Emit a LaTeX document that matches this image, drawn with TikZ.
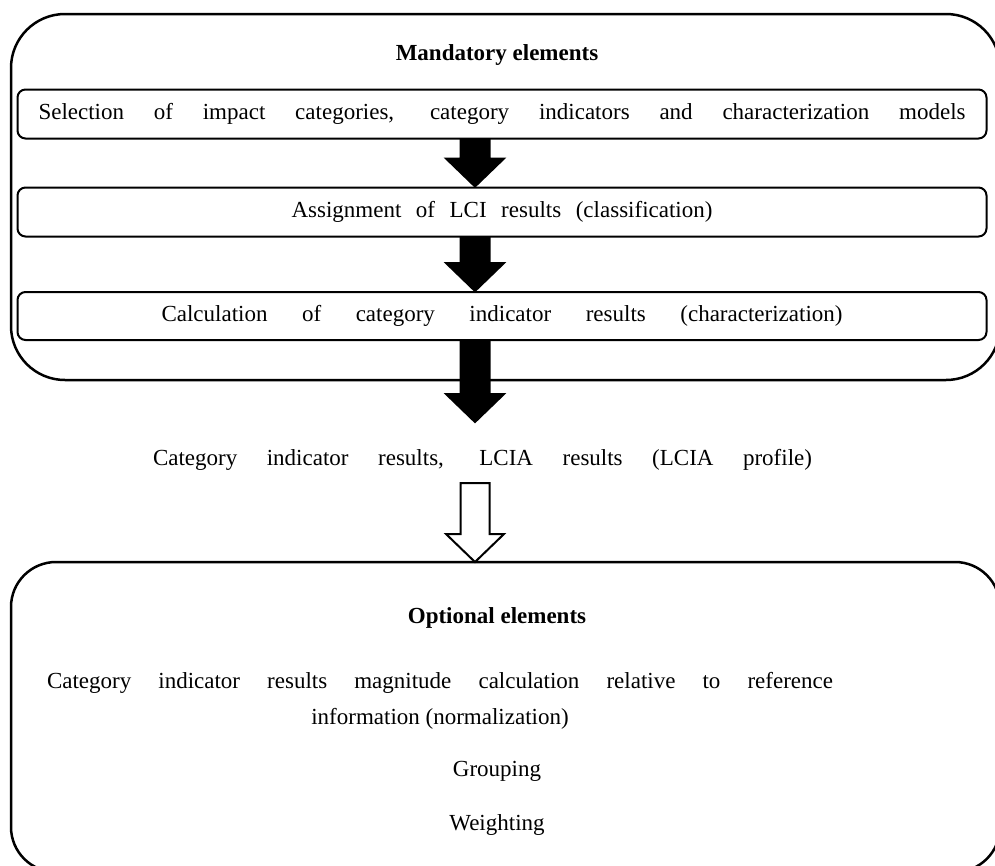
\documentclass[tikz,border=0pt]{standalone}
\usepackage{fontspec}
\setmainfont{Liberation Serif}
\usetikzlibrary{calc}

\begin{document}
\begin{tikzpicture}[x=1pt, y=-1pt, font=\fontsize{23}{28}\selectfont,
	outer/.style = {draw, line width=2.5pt, inner sep=0pt, outer sep=0pt},
	stage/.style = {draw, line width=2pt, rounded corners=8pt, minimum width=969pt, minimum height=49pt, inner sep=0pt},
	txt/.style = {draw=none, align=center, inner sep=0pt},
	blockarrow/.style = {line width=2pt, line join=miter, to path={let \p1=(\tikztostart), \p2=(\tikztotarget) in
		(\x1-14.5pt,\y1) -- (\x1-14.5pt,\y2+28pt) -- (\x1-29pt,\y2+28pt) -- (\x2,\y2)
		-- (\x1+29pt,\y2+28pt) -- (\x1+14.5pt,\y2+28pt) -- (\x1+14.5pt,\y1) -- cycle}}]
\useasboundingbox (0,0) rectangle (995,865);
\clip (0,0) rectangle (995,865);
\coordinate (arrx) at (475,0);
\node[outer, rounded corners=54pt, minimum width=989pt, minimum height=366pt] (mand) at (505.5,197) {};
\node[outer, rounded corners=45pt, minimum width=989pt, minimum height=310pt] (opt) at (505.5,717) {};
\node[txt, font=\fontsize{23}{28}\selectfont\bfseries] (mandtitle) at (497,55) {Mandatory elements};
\node[stage] (select) at (502,114) {\makebox[927pt][s]{Selection of impact categories, category indicators and characterization models}\hspace{18pt}};
\node[stage] (assign) at (502,212) {\makebox[421pt][s]{Assignment of LCI results (classification)}};
\node[stage, minimum height=48pt] (calc) at (502,316) {\makebox[681pt][s]{Calculation of category indicator results (characterization)}\hspace{19pt}};
\node[txt] (profile) at (482.5,460) {\makebox[659pt][s]{Category indicator results, LCIA results (LCIA profile)}};
\coordinate (tip) at (475,422);
\coordinate (tail) at (475,483);
\node[txt, font=\fontsize{23}{28}\selectfont\bfseries] (opttitle) at (497,618) {Optional elements};
\node[txt, font=\fontsize{23}{36}\selectfont] (norm) at (440,701) {\makebox[786pt][s]{Category indicator results magnitude calculation relative to reference}\\information (normalization)};
\node[txt] (group) at (497,771) {Grouping};
\node[txt] (weight) at (497,825) {Weighting};
\draw[blockarrow, fill=black] (select.south -| arrx) to (assign.north -| arrx);
\draw[blockarrow, fill=black] (assign.south -| arrx) to (calc.north -| arrx);
\draw[blockarrow, fill=black] (calc.south -| arrx) to (tip);
\draw[blockarrow, fill=white] (tail) to (opt.north -| arrx);
\end{tikzpicture}
\end{document}
